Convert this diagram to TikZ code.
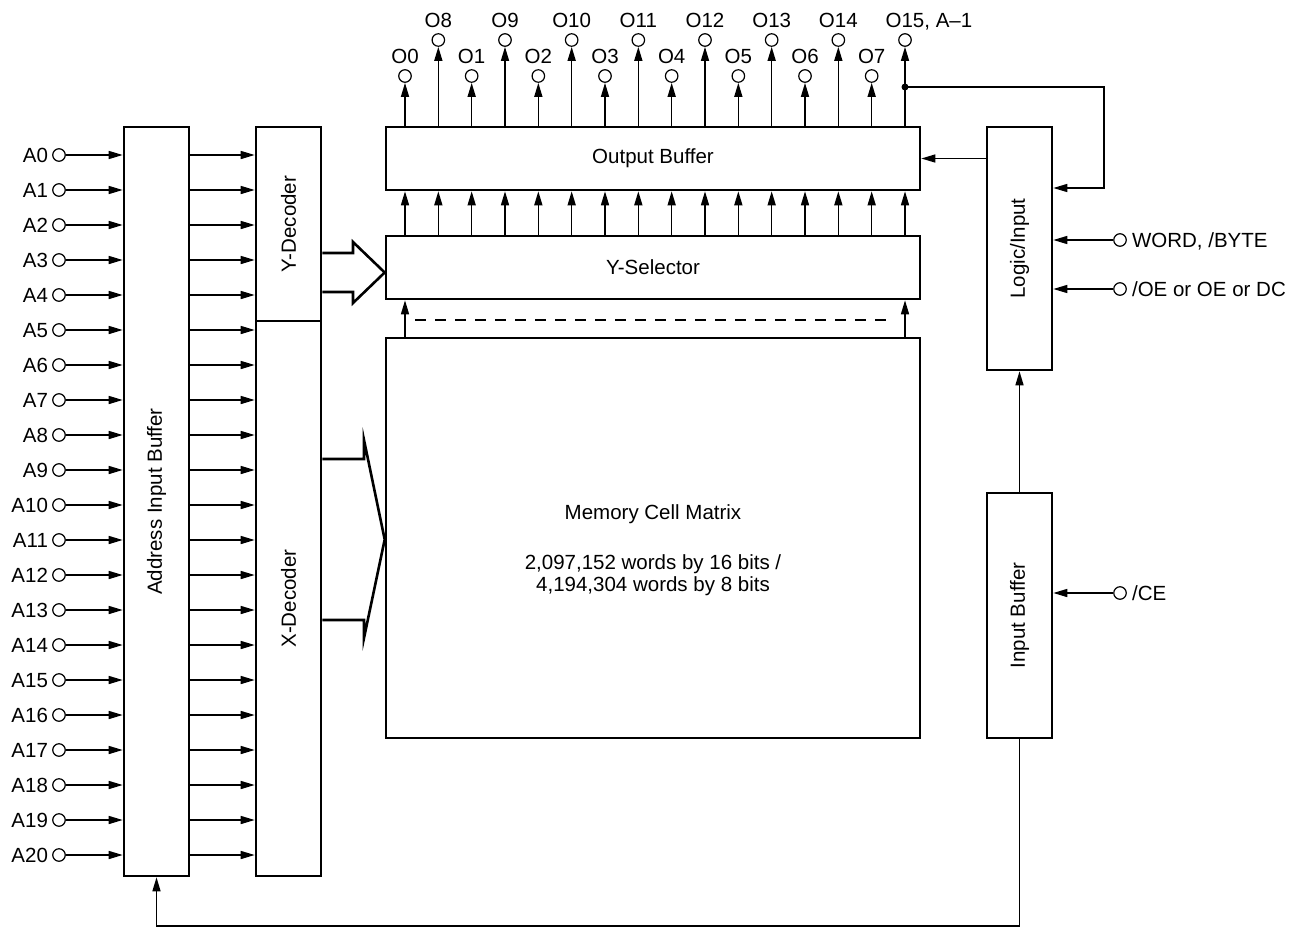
\documentclass[tikz,border=0pt]{standalone}
\usepackage{fontspec}
\setmainfont{Liberation Sans}
\usetikzlibrary{arrows.meta,positioning}

\begin{document}
\begin{tikzpicture}[x=1pt,y=-1pt,
    font=\fontsize{20.5}{22.5}\selectfont,
    box/.style={draw,line width=2.6pt,inner sep=0pt},
    pin/.style={draw,circle,line width=1.2pt,minimum size=12.5pt,inner sep=0pt},
    lbl/.style={inner sep=0pt,text height=15pt,text depth=0pt},
    arr/.style={line width=1.5pt,-{Triangle[length=14pt,width=8pt]}},
    fat/.style={line width=2.6pt,line join=miter}]
        \useasboundingbox (0,0) rectangle (1304,929);

        % blocks
        \node [box,minimum width=65pt,minimum height=749pt] (aib) at (156.5,501.5) {};
        \node [rotate=90] at (aib) {Address Input Buffer};
        \node [box,minimum width=65pt,minimum height=194pt] (ydec) at (288.5,224) {};
        \node [rotate=90] at (ydec) {Y-Decoder};
        \node [box,minimum width=65pt,minimum height=555pt] (xdec) at (288.5,598.5) {};
        \node [rotate=90] at (xdec) {X-Decoder};
        \node [box,minimum width=534pt,minimum height=63pt] (obuf) at (653,158.5) {Output Buffer};
        \node [box,minimum width=534pt,minimum height=63pt] (ysel) at (653,267.5) {Y-Selector};
        \node [box,minimum width=534pt,minimum height=400pt] (mcm) at (653,538) {};
        \node at (653,514) {Memory Cell Matrix};
        \node [align=center] at (653,575) {2,097,152 words by 16 bits /\\4,194,304 words by 8 bits};
        \node [box,minimum width=65pt,minimum height=243pt] (logic) at (1019.5,248.5) {};
        \node [rotate=90] at (logic) {Logic/Input};
        \node [box,minimum width=65pt,minimum height=245pt] (ibuf) at (1019.5,615.5) {};
        \node [rotate=90] at (ibuf) {Input Buffer};

        % address inputs
        \foreach \i in {0,...,20} {
          \node [pin] (a\i) at (59,{155+35*\i}) {};
          \node [lbl,left=4pt of a\i] {A\i};
          \draw[arr] (a\i) -- (aib.west |- a\i);
          \draw[arr] (aib.east |- a\i) -- (xdec.west |- a\i);
        }

        % outputs
        \foreach \i in {0,...,7} {
          \node [pin] (o\i) at ({405+66.667*\i},76) {};
          \node [lbl,above=5pt of o\i] {O\i};
        }
        \foreach \i in {8,...,15}
          \node [pin] (o\i) at ({438.333+66.667*(\i-8)},40) {};
        \foreach \i in {8,...,14}
          \node [lbl,above=5pt of o\i] {O\i};
        \node [lbl,above=5pt of o15] {O15\rlap{, A–1}};
        \foreach \i in {0,...,15} {
          \draw[arr] (obuf.north -| o\i) -- (o\i);
          \draw[arr] (ysel.north -| o\i) -- (obuf.south -| o\i);
        }

        % matrix to selector
        \draw[arr] (mcm.north -| o0) -- (ysel.south -| o0);
        \draw[arr] (mcm.north -| o15) -- (ysel.south -| o15);
        \draw[line width=1.2pt,dash pattern=on 11pt off 9pt] (415,320) -- (895,320);

        % decoder buses
        \draw[fat] (ydec.east |- 0,253) -| (353,242) -- (ysel.west |- 0,272.5) -- (353,303) |- (ydec.east |- 0,292);
        \draw[fat] (xdec.east |- 0,459) -| (364,440) -- (mcm.west |- 0,539.5) -- (364,638) |- (xdec.east |- 0,620);

        % control inputs
        \node [pin] (word) at (1120,240) {};
        \node [lbl,right=5pt of word] {WORD, /BYTE};
        \draw[arr] (word) -- (logic.east |- word);
        \node [pin] (oe) at (1120,289) {};
        \node [lbl,right=5pt of oe] {/OE or OE or DC};
        \draw[arr] (oe) -- (logic.east |- oe);
        \node [pin] (ce) at (1120,593) {};
        \node [lbl,right=5pt of ce] {/CE};
        \draw[arr] (ce) -- (ibuf.east |- ce);
        \draw[arr] (ibuf.north) -- (logic.south);
        \draw[arr] (logic.west |- obuf) -- (obuf.east);

        % feedback from O15
        \coordinate (fb) at (o15 |- 0,87);
        \fill (fb) circle (3.5pt);
        \draw[arr] (fb) -| (1104,188) -- (logic.east |- 0,188);

        % chip enable to address buffer
        \draw[arr] (ibuf.south) -- (ibuf.south |- 0,926) -| (aib.south);
      \end{tikzpicture}
\end{document}
